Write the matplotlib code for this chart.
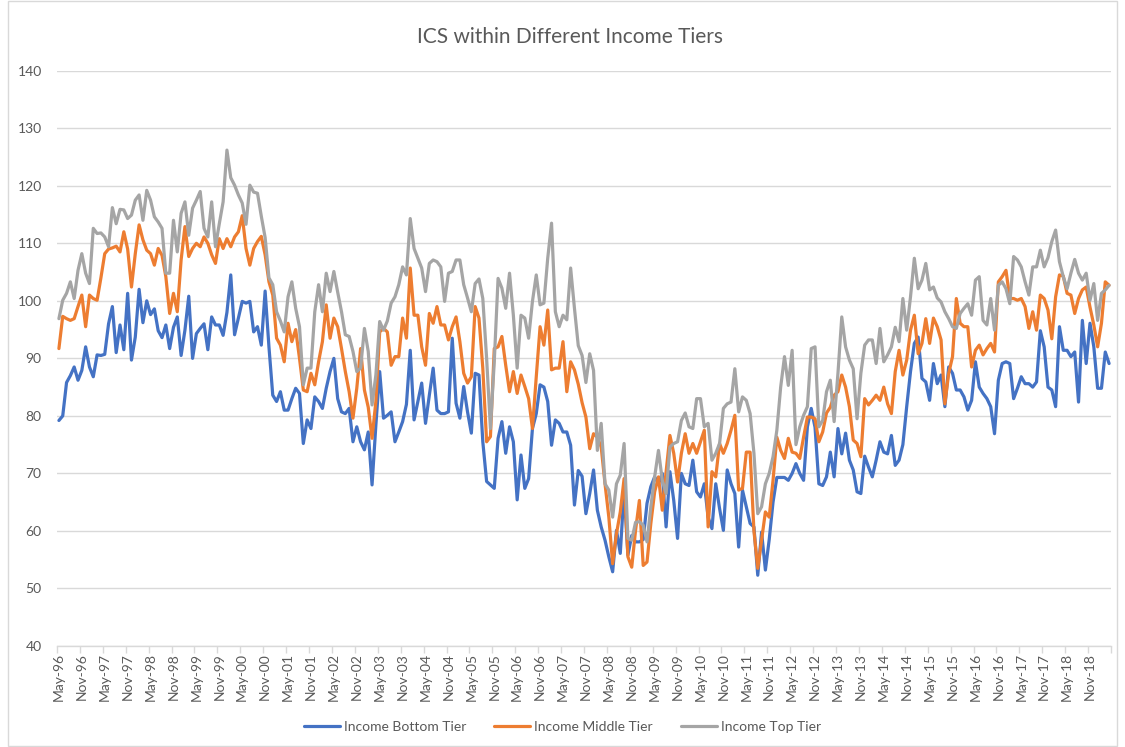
import numpy as np
import pandas as pd
import matplotlib
matplotlib.use("Agg")
import matplotlib.pyplot as plt
from matplotlib.patches import Rectangle

# ---------------- data ----------------
title = "ICS within Different Income Tiers"
series_names = ["Income Bottom Tier", "Income Middle Tier", "Income Top Tier"]
start_month = "1996-05-01"

bottom_tier = [
    79.2, 80.0, 85.8, 87.0, 88.5, 86.2, 87.9, 92.0, 88.5, 86.8, 90.6, 90.5,
    90.7, 96.0, 99.0, 91.0, 95.8, 91.5, 101.3, 89.7, 93.7, 102.0, 96.2, 100.0,
    97.6, 98.6, 94.8, 93.6, 95.8, 91.7, 95.4, 97.2, 90.5, 94.9, 100.8, 90.0,
    94.3, 95.2, 96.0, 91.5, 97.2, 95.8, 95.8, 94.0, 98.0, 104.5, 94.1, 97.0,
    99.9, 99.6, 99.9, 94.6, 95.5, 92.3, 101.7, 92.0, 83.6, 82.5, 84.2, 81.0,
    81.0, 83.0, 84.8, 83.9, 75.2, 79.3, 77.8, 83.3, 82.5, 81.3, 84.8, 87.7,
    90.0, 83.0, 80.7, 80.4, 81.3, 75.5, 78.1, 75.5, 74.1, 77.2, 68.0, 78.4,
    87.7, 79.6, 80.1, 80.7, 75.5, 77.2, 79.0, 82.0, 91.4, 79.3, 82.5, 85.7,
    78.7, 83.6, 88.3, 81.0, 80.4, 80.4, 80.7, 93.5, 82.2, 79.6, 85.1, 80.7,
    77.0, 87.4, 87.1, 75.5, 68.6, 68.0, 67.4, 76.1, 79.0, 73.5, 78.1, 75.5,
    65.4, 73.2, 67.4, 69.1, 77.8, 80.4, 85.4, 85.0, 82.5, 74.9, 79.3, 78.7,
    77.2, 77.2, 74.9, 64.5, 70.5, 69.5, 63.0, 66.5, 70.6, 63.6, 60.7, 58.4,
    55.5, 52.9, 60.1, 56.1, 67.1, 55.8, 59.2, 58.1, 58.1, 58.5, 64.8, 67.7,
    69.4, 68.2, 70.0, 60.7, 70.3, 65.3, 58.7, 70.0, 68.2, 67.9, 72.3, 66.8,
    65.9, 68.2, 62.4, 60.4, 68.2, 63.9, 60.1, 70.6, 68.2, 66.5, 57.2, 67.1,
    64.2, 61.3, 60.7, 52.3, 59.8, 53.2, 58.5, 65.0, 69.3, 69.3, 69.3, 68.8,
    70.0, 71.7, 70.0, 68.8, 78.1, 81.3, 78.0, 68.2, 67.9, 69.4, 73.7, 69.4,
    77.8, 73.4, 77.0, 72.3, 70.6, 66.8, 66.5, 73.0, 71.1, 69.4, 72.3, 75.5,
    73.7, 73.4, 76.6, 71.4, 72.3, 75.0, 81.6, 87.7, 92.6, 93.7, 86.5, 85.9,
    82.7, 89.1, 85.6, 87.1, 81.6, 88.5, 87.4, 84.5, 84.5, 83.3, 81.0, 82.7,
    89.4, 85.0, 83.9, 83.0, 81.6, 76.9, 86.2, 89.1, 89.4, 89.1, 83.0, 84.8,
    86.8, 85.6, 85.6, 85.0, 85.9, 94.8, 92.0, 85.0, 84.5, 81.6, 95.5, 91.4,
    91.4, 90.3, 91.1, 82.4, 96.6, 89.1, 96.1, 92.0, 84.8, 84.8, 91.1, 89.1,
]

middle_tier = [
    91.7, 97.3, 96.9, 96.6, 96.9, 99.0, 101.0, 95.5, 101.0, 100.4, 100.1, 104.0,
    108.2, 109.0, 109.2, 109.5, 108.5, 112.0, 109.0, 102.4, 108.2, 113.2, 110.6, 108.8,
    108.2, 106.2, 109.1, 107.9, 104.2, 97.8, 101.3, 98.1, 107.1, 112.9, 107.7, 109.1,
    110.0, 109.4, 111.1, 110.0, 108.0, 106.5, 110.8, 109.1, 110.8, 109.4, 111.1, 112.0,
    114.8, 109.1, 106.2, 109.1, 110.3, 111.2, 108.0, 103.3, 101.0, 93.5, 92.3, 89.4,
    96.1, 92.9, 95.0, 90.0, 84.5, 84.2, 87.4, 85.4, 89.4, 92.9, 99.3, 93.5,
    97.0, 95.5, 91.7, 87.7, 84.2, 79.6, 84.8, 91.7, 84.5, 81.5, 76.1, 82.5,
    94.6, 95.2, 94.6, 88.8, 90.3, 90.3, 97.0, 93.5, 105.7, 97.5, 97.5, 92.0,
    88.8, 97.8, 96.1, 99.0, 95.8, 95.8, 93.2, 95.5, 97.2, 92.9, 87.4, 85.7,
    86.8, 99.0, 97.0, 88.3, 75.5, 76.4, 91.7, 92.0, 93.8, 88.8, 84.2, 87.7,
    83.9, 87.1, 85.1, 83.0, 77.8, 86.8, 95.5, 92.3, 98.4, 88.0, 88.3, 88.3,
    92.9, 84.2, 89.4, 88.0, 85.5, 82.3, 79.8, 74.3, 76.9, 76.3, 74.6, 68.2,
    62.4, 54.3, 59.5, 63.3, 69.1, 55.5, 53.7, 60.1, 65.3, 54.0, 54.6, 61.3,
    66.8, 69.4, 63.6, 70.3, 76.6, 73.5, 68.5, 73.5, 76.9, 73.5, 75.2, 73.5,
    75.5, 77.5, 60.7, 70.3, 69.4, 75.2, 73.5, 75.2, 77.5, 80.1, 67.1, 67.4,
    73.7, 73.7, 60.0, 53.5, 58.4, 63.3, 62.4, 68.8, 76.3, 74.0, 72.6, 76.1,
    73.7, 73.5, 72.6, 76.3, 79.8, 79.8, 79.5, 75.5, 77.2, 80.5, 81.5, 83.6,
    84.2, 87.1, 85.0, 81.6, 75.8, 75.2, 72.9, 83.0, 81.9, 82.7, 83.6, 82.7,
    85.0, 82.1, 80.4, 87.7, 91.4, 87.1, 89.7, 94.9, 97.5, 90.8, 92.6, 96.9,
    92.6, 97.0, 95.5, 93.2, 82.1, 87.4, 90.3, 100.4, 96.1, 95.5, 95.5, 88.5,
    91.4, 92.3, 90.6, 91.7, 92.6, 91.1, 103.3, 104.2, 105.3, 100.4, 100.4, 100.1,
    100.4, 99.0, 95.2, 98.1, 94.9, 101.0, 100.4, 98.4, 93.4, 100.7, 104.5, 104.3,
    101.3, 101.0, 97.8, 100.4, 101.9, 102.4, 98.9, 95.8, 92.0, 96.1, 103.3, 102.7,
]

top_tier = [
    96.9, 100.1, 101.3, 103.3, 100.4, 105.3, 108.2, 104.8, 103.0, 112.6, 111.7, 111.8,
    111.1, 109.4, 116.2, 113.4, 115.9, 115.8, 114.3, 114.9, 117.5, 118.4, 114.0, 119.2,
    117.5, 114.6, 113.7, 112.6, 104.8, 104.8, 114.0, 108.5, 115.2, 117.2, 111.4, 116.1,
    117.5, 119.0, 112.6, 111.1, 117.2, 109.4, 113.4, 117.2, 126.2, 121.4, 120.1, 118.4,
    117.0, 113.3, 120.1, 118.9, 118.7, 114.7, 111.0, 104.0, 102.8, 98.1, 96.5, 94.6,
    100.7, 103.3, 98.7, 95.5, 85.4, 88.3, 88.3, 98.1, 102.8, 98.1, 104.8, 101.6,
    105.1, 101.5, 98.1, 94.1, 93.8, 91.2, 87.7, 88.3, 95.2, 91.2, 81.9, 87.1,
    96.4, 94.9, 96.5, 99.6, 100.7, 102.8, 105.9, 104.5, 114.3, 109.1, 107.4, 105.7,
    101.6, 106.5, 107.1, 106.8, 105.9, 99.9, 104.8, 105.1, 107.1, 107.1, 102.8, 100.5,
    98.1, 103.0, 103.8, 100.4, 90.0, 77.8, 89.4, 103.9, 102.2, 98.7, 104.8, 97.5,
    88.3, 97.5, 97.0, 93.5, 99.9, 104.5, 99.3, 99.6, 107.4, 113.5, 98.1, 95.5,
    97.5, 96.7, 105.7, 98.7, 92.2, 90.5, 85.8, 90.8, 87.9, 74.0, 78.7, 68.2,
    67.1, 62.4, 68.2, 69.7, 75.2, 58.7, 58.4, 61.5, 61.6, 61.0, 58.1, 64.2,
    69.4, 74.0, 68.8, 66.5, 74.6, 75.2, 75.5, 79.2, 80.5, 78.1, 77.8, 83.0,
    83.0, 78.1, 78.7, 72.3, 73.5, 75.2, 81.3, 82.1, 82.4, 88.2, 80.7, 83.3,
    82.7, 80.4, 73.5, 63.0, 64.2, 68.2, 70.0, 72.9, 77.5, 85.0, 90.3, 85.3,
    91.4, 75.0, 78.1, 80.1, 81.6, 91.7, 92.0, 78.1, 79.2, 84.2, 86.2, 79.0,
    87.4, 97.2, 92.0, 89.7, 88.2, 79.5, 87.4, 92.3, 93.2, 93.2, 89.1, 95.2,
    89.4, 90.6, 92.0, 95.4, 92.9, 100.4, 94.9, 100.7, 107.4, 102.1, 103.6, 106.5,
    101.9, 102.4, 100.5, 99.8, 98.1, 96.9, 95.5, 95.2, 97.8, 98.7, 99.5, 97.5,
    103.6, 104.2, 96.6, 95.8, 100.4, 94.9, 102.7, 103.3, 102.1, 99.5, 107.7, 107.1,
    105.9, 103.3, 101.0, 105.9, 105.9, 108.8, 105.9, 107.5, 110.3, 112.3, 106.8, 104.2,
    102.1, 104.8, 107.2, 104.8, 103.6, 104.8, 100.1, 103.0, 96.6, 101.3, 101.9, 102.7,
]

y_ticks = [40, 50, 60, 70, 80, 90, 100, 110, 120, 130, 140]
label_every = 6

# ---------------- style ----------------
colors = ["#4472C4", "#ED7D31", "#A5A5A5"]
text_color = "#595959"
grid_color = "#D9D9D9"
plt.rcParams["font.family"] = ["Lato", "DejaVu Sans"]

n = len(bottom_tier)
assert len(middle_tier) == n and len(top_tier) == n
months = pd.date_range(start_month, periods=n, freq="MS")
month_labels = [d.strftime("%b-%y") for d in months]
x = np.arange(n)

fig = plt.figure(figsize=(11.25, 7.47), dpi=100)
ax = fig.add_axes([57 / 1125, 1 - 646 / 747, (1111 - 57) / 1125, (646 - 70.7) / 747])

for vals, name, c in zip([bottom_tier, middle_tier, top_tier], series_names, colors):
    ax.plot(x, vals, color=c, lw=2.3, label=name, solid_joinstyle="round", solid_capstyle="round", zorder=3)

ax.set_xlim(-0.5, n - 0.5)
ax.set_ylim(40, 140)
ax.set_yticks(y_ticks)
ax.yaxis.grid(True, color=grid_color, lw=1.0)
ax.set_axisbelow(True)

tick_pos = list(range(0, n, label_every))
ax.set_xticks(tick_pos)
ax.set_xticklabels([month_labels[i] for i in tick_pos], rotation=90, fontsize=10, color=text_color)
ax.set_xticks([i - 0.5 for i in range(0, n + 1, label_every)], minor=True)
ax.tick_params(axis="x", which="major", length=0, pad=5)
ax.tick_params(axis="x", which="minor", length=5, color=grid_color, width=1)
ax.tick_params(axis="y", length=0, pad=11, labelsize=10, labelcolor=text_color)

for s in ["top", "right", "left"]:
    ax.spines[s].set_visible(False)
ax.spines["bottom"].set_color(grid_color)
ax.spines["bottom"].set_linewidth(1.0)

fig.text(570 / 1125, 1 - 37 / 747, title, ha="center", va="center", fontsize=15, color=text_color)

fig.legend(loc="center", bbox_to_anchor=(0.5, 1 - 727 / 747), ncol=3, frameon=False,
           fontsize=10, labelcolor=text_color, handlelength=2.6, handletextpad=0.3,
           columnspacing=2.0)

fig.patches.append(Rectangle((8 / 1125, 0.002), 1 - 16 / 1125, 0.996, transform=fig.transFigure,
                             fill=False, edgecolor=grid_color, lw=1.0))

fig.savefig("out.png", dpi=100, facecolor="white")
